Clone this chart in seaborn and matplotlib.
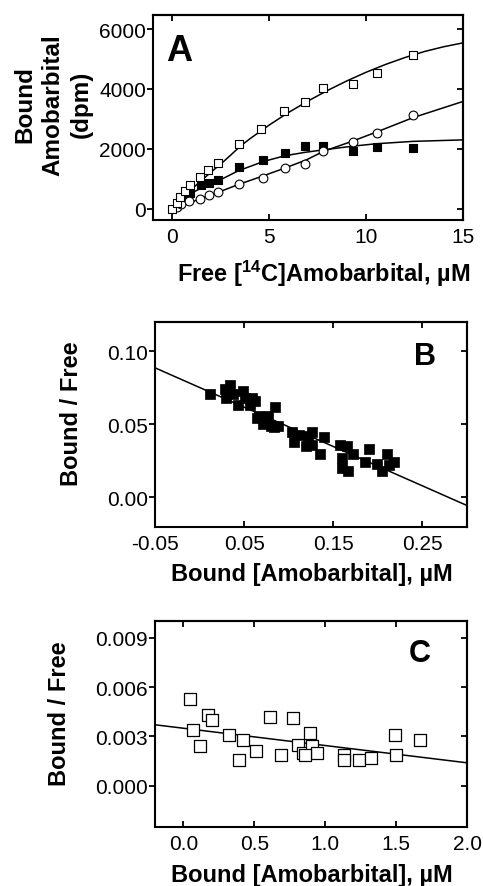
import matplotlib
matplotlib.use("Agg")
import matplotlib.pyplot as plt
import seaborn as sns

# ---- panel A: bound vs free [14C]amobarbital ----
a_open_x = [0, 0.24, 0.41, 0.64, 0.88, 1.40, 1.85, 2.36, 3.43, 4.59, 5.76, 6.85, 7.78, 9.30, 10.55, 12.43]
a_open_y = [0, 200, 390, 580, 780, 1065, 1290, 1535, 2160, 2655, 3250, 3560, 4030, 4165, 4535, 5150]
a_filled_x = [0.64, 0.88, 1.45, 1.88, 2.34, 3.43, 4.69, 5.79, 6.85, 7.78, 9.30, 10.55, 12.43]
a_filled_y = [380, 540, 780, 860, 975, 1380, 1625, 1850, 2095, 2095, 1925, 2070, 2040]
a_circle_x = [0.24, 0.45, 0.85, 1.40, 1.88, 2.34, 3.43, 4.69, 5.79, 6.85, 7.78, 9.30, 10.55, 12.43]
a_circle_y = [60, 150, 245, 336, 447, 560, 817, 1030, 1367, 1490, 1940, 2218, 2520, 3135]

# fitted curves
a_open_fit_x = [0, 0.5, 1, 1.5, 2, 2.5, 3, 3.5, 4, 5, 6, 7, 8, 9, 10, 11, 12, 13, 14, 15]
a_open_fit_y = [0, 330, 660, 950, 1230, 1500, 1790, 2090, 2340, 2800, 3220, 3600, 3950, 4270, 4560, 4820, 5050, 5250, 5410, 5540]
a_filled_fit_x = [0, 0.4, 0.9, 1.5, 2.3, 3.4, 4.7, 5.8, 6.8, 7.7, 9.3, 10.5, 12.4, 15]
a_filled_fit_y = [0, 260, 490, 700, 910, 1270, 1580, 1770, 1880, 1960, 2090, 2170, 2250, 2300]
a_circle_fit_x = [0, 0.9, 2.4, 3.4, 4.6, 5.8, 6.9, 7.8, 9.3, 10.6, 12.4, 15]
a_circle_fit_y = [0, 205, 560, 810, 1080, 1360, 1630, 1920, 2260, 2580, 3040, 3585]

a_xticks = [0, 5, 10, 15]
a_yticks = [0, 2000, 4000, 6000]

# ---- panel B: Scatchard, filled squares ----
b_x = [0.012, 0.029, 0.034, 0.030, 0.038, 0.043, 0.049, 0.051, 0.057, 0.059, 0.062,
       0.064, 0.067, 0.071, 0.075, 0.077, 0.080, 0.083, 0.085, 0.088, 0.104, 0.106,
       0.112, 0.119, 0.122, 0.126, 0.126, 0.135, 0.139, 0.157, 0.160, 0.160, 0.165,
       0.167, 0.172, 0.186, 0.190, 0.199, 0.205, 0.210, 0.218, 0.212]
b_y = [0.071, 0.074, 0.077, 0.068, 0.071, 0.063, 0.073, 0.068, 0.063, 0.068, 0.066,
       0.054, 0.056, 0.050, 0.052, 0.056, 0.049, 0.048, 0.062, 0.049, 0.045, 0.038,
       0.043, 0.035, 0.042, 0.045, 0.036, 0.030, 0.041, 0.036, 0.027, 0.020, 0.035,
       0.018, 0.030, 0.024, 0.033, 0.023, 0.018, 0.030, 0.024, 0.022]
b_fit_x = [-0.05, 0.30]
b_fit_y = [0.0886, -0.0055]
b_xticks = [-0.05, 0.05, 0.15, 0.25]
b_xticklabels = ["-0.05", "0.05", "0.15", "0.25"]
b_yticks = [0.00, 0.05, 0.10]
b_yticklabels = ["0.00", "0.05", "0.10"]

# ---- panel C: Scatchard, open squares ----
c_x = [0.05, 0.07, 0.12, 0.17, 0.20, 0.32, 0.39, 0.42, 0.51, 0.61, 0.69, 0.77, 0.81,
       0.84, 0.89, 0.91, 0.94, 0.86, 1.13, 1.13, 1.24, 1.32, 1.49, 1.50, 1.67]
c_y = [0.0053, 0.0034, 0.0024, 0.0043, 0.0040, 0.0031, 0.0016, 0.0028, 0.0021, 0.0042,
       0.0019, 0.0041, 0.0025, 0.0020, 0.0032, 0.0024, 0.0020, 0.0019, 0.0019, 0.0016,
       0.0016, 0.0017, 0.0031, 0.0019, 0.0028]
c_fit_x = [-0.2, 2.0]
c_fit_y = [0.00371, 0.00140]
c_xticks = [0.0, 0.5, 1.0, 1.5, 2.0]
c_xticklabels = ["0.0", "0.5", "1.0", "1.5", "2.0"]
c_yticks = [0.000, 0.003, 0.006, 0.009]
c_yticklabels = ["0.000", "0.003", "0.006", "0.009"]


def style_axes(ax, xlim, ylim, xticks, yticks, xlabels=None, ylabels=None):
    """Box frame, left ticks out, all others in, mirrored ticks without labels."""
    ax.set_xlim(*xlim)
    ax.set_ylim(*ylim)
    ax.set_xticks(xticks, xlabels if xlabels is not None else [str(t) for t in xticks])
    ax.set_yticks(yticks, ylabels if ylabels is not None else [str(t) for t in yticks])
    for sp in ax.spines.values():
        sp.set_visible(True)
        sp.set_linewidth(1.5)
        sp.set_color("black")
    ax.tick_params(axis="x", direction="in", length=4, width=1.3, labelsize=15, pad=5,
                   colors="black")
    ax.tick_params(axis="y", direction="out", length=4, width=1.3, labelsize=15, pad=1,
                   colors="black")
    top = ax.secondary_xaxis("top")
    top.set_xticks(xticks)
    top.tick_params(direction="in", length=4, width=1.3, labeltop=False, colors="black")
    top.spines["top"].set_linewidth(1.5)
    top.spines["top"].set_color("black")
    right = ax.secondary_yaxis("right")
    right.set_yticks(yticks)
    right.tick_params(direction="in", length=4, width=1.3, labelright=False, colors="black")
    right.spines["right"].set_linewidth(1.5)
    right.spines["right"].set_color("black")
    ax.set_xlabel("")
    ax.set_ylabel("")
    ax.grid(False)


def run_main():
    sns.set_style("ticks")
    plt.rcParams["font.family"] = ["Liberation Sans", "DejaVu Sans"]
    plt.rcParams["text.color"] = "black"
    plt.rcParams["axes.edgecolor"] = "black"
    plt.rcParams["xtick.color"] = "black"
    plt.rcParams["ytick.color"] = "black"
    plt.rcParams["mathtext.fontset"] = "custom"
    plt.rcParams["mathtext.bf"] = "Liberation Sans:bold"
    plt.rcParams["mathtext.rm"] = "Liberation Sans:bold"
    plt.rcParams["mathtext.default"] = "bf"

    fig = plt.figure(figsize=(4.83, 8.87), dpi=100)
    ax_a = fig.add_axes([0.317, 0.751, 0.642, 0.231])
    ax_b = fig.add_axes([0.321, 0.405, 0.646, 0.231])
    ax_c = fig.add_axes([0.321, 0.0665, 0.646, 0.232])

    # panel A
    line_kw = dict(color="black", linewidth=1.1, estimator=None, zorder=2)
    sns.lineplot(x=a_open_fit_x, y=a_open_fit_y, ax=ax_a, **line_kw)
    sns.lineplot(x=a_filled_fit_x, y=a_filled_fit_y, ax=ax_a, **line_kw)
    sns.lineplot(x=a_circle_fit_x, y=a_circle_fit_y, ax=ax_a, **line_kw)
    sns.scatterplot(x=a_filled_x, y=a_filled_y, marker="s", s=40, color="black",
                    edgecolor="black", linewidth=0.8, ax=ax_a, zorder=3)
    sns.scatterplot(x=a_circle_x, y=a_circle_y, marker="o", s=40, color="white",
                    edgecolor="black", linewidth=0.8, ax=ax_a, zorder=4)
    sns.scatterplot(x=a_open_x, y=a_open_y, marker="s", s=40, color="white",
                    edgecolor="black", linewidth=0.8, ax=ax_a, zorder=5)
    style_axes(ax_a, (-1, 15), (-370, 6470), a_xticks, a_yticks)
    ax_a.text(0.084, 0.827, "A", transform=ax_a.transAxes, fontsize=26,
              fontweight="bold", ha="center", va="center")

    # panel B
    sns.lineplot(x=b_fit_x, y=b_fit_y, ax=ax_b, **line_kw)
    sns.scatterplot(x=b_x, y=b_y, marker="s", s=56, color="black", edgecolor="black",
                    linewidth=0.5, ax=ax_b, zorder=3)
    style_axes(ax_b, (-0.05, 0.30), (-0.02, 0.12), b_xticks, b_yticks,
               b_xticklabels, b_yticklabels)
    ax_b.text(0.864, 0.834, "B", transform=ax_b.transAxes, fontsize=22,
              fontweight="bold", ha="center", va="center")

    # panel C
    sns.lineplot(x=c_fit_x, y=c_fit_y, ax=ax_c, **line_kw)
    sns.scatterplot(x=c_x, y=c_y, marker="s", s=64, color="white", edgecolor="black",
                    linewidth=0.9, ax=ax_c, zorder=3)
    style_axes(ax_c, (-0.2, 2.0), (-0.0025, 0.0100), c_xticks, c_yticks,
               c_xticklabels, c_yticklabels)
    ax_c.text(0.849, 0.847, "C", transform=ax_c.transAxes, fontsize=22,
              fontweight="bold", ha="center", va="center")

    # axis titles
    lab = dict(fontsize=17, fontweight="bold", ha="center", va="center")
    fig.text(0.110, 0.882, "Bound\nAmobarbital\n(dpm)", rotation=90,
             multialignment="center", linespacing=1.3, fontsize=17.5,
             fontweight="bold", ha="center", va="center")
    fig.text(0.671, 0.691, r"Free [$^{14}$C]Amobarbital, µM", **lab)
    fig.text(0.147, 0.534, "Bound / Free", rotation=90, **lab)
    fig.text(0.646, 0.352, "Bound [Amobarbital], µM", **lab)
    fig.text(0.124, 0.195, "Bound / Free", rotation=90, **lab)
    fig.text(0.646, 0.0125, "Bound [Amobarbital], µM", **lab)

    fig.savefig("out.png", dpi=100)
    plt.close(fig)


if __name__ == "__main__":
    run_main()
